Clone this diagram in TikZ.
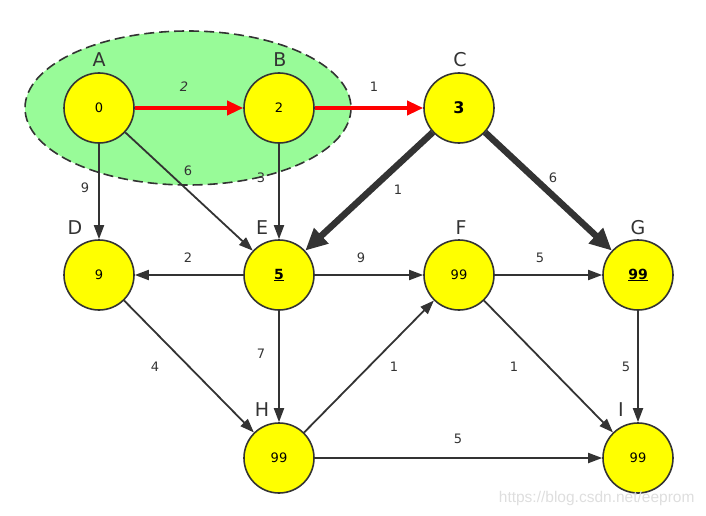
\documentclass[tikz,border=0pt]{standalone}
\usepackage{fontspec}
\setmainfont{DejaVu Sans}
\newfontfamily\wmfont{Liberation Sans}
\usetikzlibrary{arrows.meta}
\definecolor{edgegray}{HTML}{333333}
\definecolor{nodeyellow}{HTML}{FFFF00}
\definecolor{palegreen}{HTML}{98FB98}
\tikzset{
  vtx/.style={circle,draw=edgegray,line width=1.6pt,fill=nodeyellow,minimum size=70pt,inner sep=0pt,font=\fontsize{13}{13}\selectfont},
  vname/.style={font=\fontsize{19}{19}\selectfont,text=edgegray},
  wlab/.style={font=\fontsize{13}{13}\selectfont,text=edgegray},
  edg/.style={draw=edgegray,line width=1.8pt,-{Triangle[length=14pt,width=10pt]}},
  redg/.style={draw=red,line width=3.5pt,-{Triangle[length=16pt,width=14pt]}},
  thk/.style={draw=edgegray,line width=6.5pt,-{Triangle[length=22pt,width=20pt]}}
}
\begin{document}
\begin{tikzpicture}[x=1pt,y=-1pt]
\useasboundingbox (0,0) rectangle (706,516);
% highlight ellipse
\draw[fill=palegreen,draw=edgegray,line width=1.6pt,dash pattern=on 10pt off 5pt] (188,108) ellipse [x radius=163,y radius=77];
% vertices
\node[vtx] (A) at (99,108) {0};
\node[vtx] (B) at (279,108) {2};
\node[vtx] (C) at (459,108) {\fontsize{16}{16}\selectfont\bfseries 3};
\node[vtx] (D) at (99,275) {9};
\node[vtx] (E) at (279,275) {\fontsize{14}{14}\selectfont\bfseries\underline{5}};
\node[vtx] (F) at (459,275) {99};
\node[vtx] (G) at (638,275) {\fontsize{14}{14}\selectfont\bfseries\underline{99}};
\node[vtx] (H) at (279,458) {99};
\node[vtx] (I) at (638,458) {99};
% vertex names
\node[vname] (nA) at (99,60) {A};
\node[vname] (nB) at (280,60) {B};
\node[vname] (nC) at (460,60) {C};
\node[vname] (nD) at (75,228) {D};
\node[vname] (nE) at (262,228) {E};
\node[vname] (nF) at (461,228) {F};
\node[vname] (nG) at (638,228) {G};
\node[vname] (nH) at (262,410) {H};
\node[vname] (nI) at (621,410) {I};
% edges
\draw[redg] (A) -- (B);
\draw[redg] (B) -- (C);
\draw[edg] (A) -- (D);
\draw[edg] (A) -- (E);
\draw[edg] (B) -- (E);
\draw[thk] (C) -- (E);
\draw[thk] (C) -- (G);
\draw[edg] (E) -- (D);
\draw[edg] (E) -- (F);
\draw[edg] (F) -- (G);
\draw[edg] (D) -- (H);
\draw[edg] (E) -- (H);
\draw[edg] (H) -- (F);
\draw[edg] (F) -- (I);
\draw[edg] (G) -- (I);
\draw[edg] (H) -- (I);
% weights
\node[wlab] (wAB) at (184,87) {\itshape 2};
\node[wlab] (wBC) at (374,87) {1};
\node[wlab] (wAD) at (85,188) {9};
\node[wlab] (wAE) at (188,171) {6};
\node[wlab] (wBE) at (261,178) {3};
\node[wlab] (wCE) at (398,190) {1};
\node[wlab] (wCG) at (553,178) {6};
\node[wlab] (wED) at (188,258) {2};
\node[wlab] (wEF) at (361,258) {9};
\node[wlab] (wFG) at (540,258) {5};
\node[wlab] (wDH) at (155,367) {4};
\node[wlab] (wEH) at (261,354) {7};
\node[wlab] (wHF) at (394,367) {1};
\node[wlab] (wFI) at (514,367) {1};
\node[wlab] (wGI) at (626,367) {5};
\node[wlab] (wHI) at (458,439) {5};
% watermark
\node[text=black!13,font=\wmfont\fontsize{15.5}{15.5}\selectfont,anchor=east] (wm) at (698,498) {https://blog.csdn.net/eeprom};
\end{tikzpicture}
\end{document}
